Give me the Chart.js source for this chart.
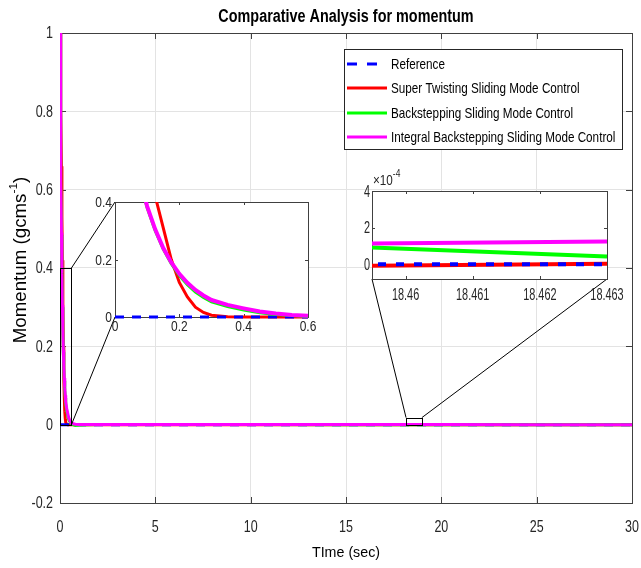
<!DOCTYPE html>
<html>
<head>
<meta charset="utf-8">
<script src="https://cdn.jsdelivr.net/npm/chart.js@4.4.1/dist/chart.umd.min.js"></script>
<style>
html, body { margin: 0; padding: 0; background: #fff; }
#wrap { position: relative; width: 641px; height: 568px; }
#wrap canvas { position: absolute; }
</style>
</head>
<body>
<div id="wrap">
  <canvas id="mainChart" width="641" height="568" style="left:0;top:0"></canvas>
  <canvas id="zoomEarly" width="235" height="145" style="left:85px;top:194px"></canvas>
  <canvas id="zoomLate" width="277" height="136" style="left:350px;top:167px"></canvas>
</div>
<script>
// --- data ---
const time = [0, 0.025, 0.05, 0.075, 0.1, 0.125, 0.15, 0.175, 0.2, 0.225, 0.25, 0.275, 0.3, 0.35, 0.4,
              0.45, 0.5, 0.55, 0.6, 0.8, 1, 2, 5, 10, 15, 18.4595, 18.463, 20, 25, 30];
const reference = [0, 0, 0, 0, 0, 0, 0, 0, 0, 0, 0, 0, 0, 0, 0,
                   0, 0, 0, 0, 0, 0, 0, 0, 0, 0, 0, 0, 0, 0, 0];
const stsmc = [1, 0.93, 0.8, 0.66, 0.53, 0.42, 0.31, 0.2, 0.12, 0.07, 0.034, 0.016, 0.006, 0.001, 0,
               0, 0, 0, 0, 0, 0, 0, 0, 0, 0, -0.000008, 0.000003, 0.000002, 0.000001, 0];
const bsmc = [1, 0.785, 0.615, 0.485, 0.38, 0.3, 0.236, 0.185, 0.144, 0.112, 0.087, 0.068, 0.053, 0.036, 0.024,
              0.015, 0.009, 0.005, 0.002, -0.002, -0.001, 0.0002, 0.00015, 0.00012, 0.0001, 0.000092, 0.000043, 0.00003, 0.00001, 0];
const ibsmc = [1, 0.79, 0.62, 0.49, 0.385, 0.305, 0.24, 0.19, 0.15, 0.119, 0.094, 0.075, 0.059, 0.042, 0.03,
               0.019, 0.012, 0.007, 0.004, 0.001, 0.0004, 0.0002, 0.00015, 0.00013, 0.00012, 0.000113, 0.000124, 0.00012, 0.0001, 0.0001];

const seriesNames = ['Reference', 'Super Twisting Sliding Mode Control',
                     'Backstepping Sliding Mode Control', 'Integral Backstepping Sliding Mode Control'];
const seriesValues = [reference, stsmc, bsmc, ibsmc];
const seriesColors = ['#0000ff', '#ff0000', '#00ff00', '#ff00ff'];
const drawOrder = [2, 3, 1, 0]; // lower = drawn on top

const xTicks = [0, 5, 10, 15, 20, 25, 30];
const yTicks = [-0.2, 0, 0.2, 0.4, 0.6, 0.8, 1];
const earlyXTicks = [0, 0.2, 0.4, 0.6];
const earlyYTicks = [0, 0.2, 0.4];
const lateXTicks = [18.46, 18.461, 18.462, 18.463];
const lateYTicks = [0, 0.0002, 0.0004];

// zoom boxes on the main axes (data units) and which inset they feed
const zoomBoxes = [
    { x0: 0, x1: 0.6, y0: 0, y1: 0.4 },
    { x0: 18.15, x1: 18.98, y0: 0, y1: 0.018 }
];
const links = [
    { box: 0, inset: 0, ends: [['tr', 'tl'], ['br', 'bl']] },
    { box: 1, inset: 1, ends: [['tl', 'bl'], ['tr', 'br']] }
];

const SANS = "'Liberation Sans', Arial, sans-serif";
const AXIS = '#404040';
const LABEL = '#262626';

function buildDatasets(widths, dash) {
    return seriesNames.map((name, i) => ({
        label: name,
        data: time.map((t, j) => ({ x: t, y: seriesValues[i][j] })),
        borderColor: seriesColors[i],
        backgroundColor: seriesColors[i],
        borderWidth: widths[i],
        borderDash: i === 0 ? dash : [],
        pointRadius: 0,
        tension: 0,
        fill: false,
        order: drawOrder[i]
    }));
}

// Helvetica-narrow look: Liberation Sans squeezed horizontally
function squeezed(ctx, str, x, y, font, sx, align, baseline) {
    ctx.save();
    ctx.translate(x, y);
    ctx.scale(sx, 1);
    ctx.font = font;
    ctx.textAlign = align;
    ctx.textBaseline = baseline;
    ctx.fillText(str, 0, 0);
    ctx.restore();
}

// white plot area + box + inward ticks + tick labels (MATLAB look)
const framePlugin = {
    id: 'frame',
    beforeDraw(chart, args, opts) {
        if (!opts.fill) return;
        const a = chart.chartArea, ctx = chart.ctx;
        ctx.save();
        ctx.fillStyle = '#fff';
        ctx.fillRect(a.left, a.top, a.width, a.height);
        ctx.restore();
    },
    beforeDatasetsDraw(chart, args, opts) {
        const { ctx, chartArea: a, scales } = chart;
        const len = opts.tickLen || 5;
        ctx.save();
        ctx.strokeStyle = AXIS;
        ctx.lineWidth = 1;
        ctx.beginPath();
        scales.x.ticks.forEach(t => {
            const px = Math.round(scales.x.getPixelForValue(t.value)) + 0.5;
            ctx.moveTo(px, a.bottom); ctx.lineTo(px, a.bottom - len);
            ctx.moveTo(px, a.top); ctx.lineTo(px, a.top + len);
        });
        scales.y.ticks.forEach(t => {
            const py = Math.round(scales.y.getPixelForValue(t.value)) + 0.5;
            ctx.moveTo(a.left, py); ctx.lineTo(a.left + len, py);
            ctx.moveTo(a.right, py); ctx.lineTo(a.right - len, py);
        });
        ctx.stroke();
        ctx.strokeRect(Math.round(a.left) + 0.5, Math.round(a.top) + 0.5, Math.round(a.width), Math.round(a.height));
        // tick labels
        ctx.fillStyle = LABEL;
        const font = opts.labelSize + 'px ' + SANS;
        scales.x.ticks.forEach(t => {
            squeezed(ctx, opts.xFmt(t.value), scales.x.getPixelForValue(t.value), a.bottom + opts.xPad,
                     font, opts.sx, 'center', 'alphabetic');
        });
        scales.y.ticks.forEach(t => {
            squeezed(ctx, opts.yFmt(t.value), a.left - opts.yPad, scales.y.getPixelForValue(t.value) + 1,
                     font, opts.sx, 'right', 'middle');
        });
        ctx.restore();
    }
};

let insetCharts = [];

function rectCorner(r, c) {
    return [c[1] === 'l' ? r.l : r.r, c[0] === 't' ? r.t : r.b];
}

function drawLegend(chart) {
    const { ctx, chartArea: a } = chart;
    const L = a.right - 288, T = a.top + 16, W = 278, H = 100;
    ctx.save();
    ctx.fillStyle = '#fff';
    ctx.fillRect(L, T, W, H);
    ctx.strokeStyle = '#262626';
    ctx.lineWidth = 1;
    ctx.strokeRect(L + 0.5, T + 0.5, W, H);
    chart.data.datasets.forEach((ds, i) => {
        const y = Math.round(T + 15 + i * 24.3);
        ctx.strokeStyle = ds.borderColor;
        ctx.lineWidth = 3;
        ctx.setLineDash(i === 0 ? [10, 10] : []);
        ctx.beginPath();
        ctx.moveTo(L + 3, y);
        ctx.lineTo(L + 43, y);
        ctx.stroke();
        ctx.setLineDash([]);
        ctx.fillStyle = '#000';
        squeezed(ctx, ds.label, L + 47, y + 1, '15px ' + SANS, 0.78, 'left', 'middle');
    });
    ctx.restore();
}

function drawYTitle(chart) {
    const { ctx, chartArea: a } = chart;
    ctx.save();
    ctx.translate(21, (a.top + a.bottom) / 2 - 8);
    ctx.rotate(-Math.PI / 2);
    ctx.scale(1.04, 1);
    const big = '18px ' + SANS, small = '11.5px ' + SANS;
    const parts = [['Momentum (gcms', big, 0], ['-1', small, -7], [')', big, 0]];
    let w = 0;
    parts.forEach(p => { ctx.font = p[1]; w += ctx.measureText(p[0]).width; });
    let x = -w / 2;
    ctx.fillStyle = '#000';
    ctx.textAlign = 'left';
    ctx.textBaseline = 'middle';
    parts.forEach(p => {
        ctx.font = p[1];
        ctx.fillText(p[0], x, p[2]);
        x += ctx.measureText(p[0]).width;
    });
    ctx.restore();
}

const mainExtras = {
    id: 'mainExtras',
    afterDatasetsDraw(chart) {
        const { ctx, chartArea: a, scales } = chart;
        ctx.save();
        ctx.strokeStyle = '#000';
        ctx.lineWidth = 1;
        const boxRects = zoomBoxes.map(b => {
            const r = {
                l: scales.x.getPixelForValue(b.x0), r: scales.x.getPixelForValue(b.x1),
                t: scales.y.getPixelForValue(b.y1), b: scales.y.getPixelForValue(b.y0)
            };
            ctx.strokeRect(Math.round(r.l) + 0.5, Math.round(r.t) + 0.5, Math.round(r.r - r.l), Math.round(r.b - r.t));
            return r;
        });
        // connector lines to the inset axes
        links.forEach(lk => {
            const ic = insetCharts[lk.inset];
            if (!ic) return;
            const ca = ic.chartArea, ox = ic.canvas.offsetLeft, oy = ic.canvas.offsetTop;
            const ir = { l: ox + ca.left, r: ox + ca.right, t: oy + ca.top, b: oy + ca.bottom };
            lk.ends.forEach(e => {
                const p = rectCorner(boxRects[lk.box], e[0]);
                const q = rectCorner(ir, e[1]);
                ctx.beginPath();
                ctx.moveTo(p[0], p[1]);
                ctx.lineTo(q[0], q[1]);
                ctx.stroke();
            });
        });
        // title and x-axis label
        ctx.fillStyle = '#000';
        squeezed(ctx, 'Comparative Analysis for momentum', (a.left + a.right) / 2, 22,
                 'bold 18px ' + SANS, 0.8, 'center', 'alphabetic');
        squeezed(ctx, 'TIme (sec)', (a.left + a.right) / 2, 557, '15px ' + SANS, 0.95, 'center', 'alphabetic');
        ctx.restore();
        drawLegend(chart);
        drawYTitle(chart);
    }
};

function fmt(v) { return String(Math.round(v * 1000) / 1000); }

const mainChart = new Chart(document.getElementById('mainChart'), {
    type: 'line',
    data: { datasets: buildDatasets([3, 3, 3, 3], [9, 8]) },
    options: {
        responsive: false,
        animation: false,
        devicePixelRatio: 1,
        layout: { padding: { top: 33, right: 9, left: 0, bottom: 0 } },
        plugins: {
            legend: { display: false },
            tooltip: { enabled: false },
            frame: { tickLen: 6, labelSize: 16, sx: 0.78, xPad: 29, yPad: 7, xFmt: fmt, yFmt: fmt }
        },
        scales: {
            x: {
                type: 'linear', min: 0, max: 30,
                afterBuildTicks: s => { s.ticks = xTicks.map(v => ({ value: v })); },
                afterFit: s => { s.height = 65; },
                grid: { color: '#e3e3e3', drawTicks: false },
                border: { display: false },
                ticks: { display: false }
            },
            y: {
                type: 'linear', min: -0.2, max: 1,
                afterBuildTicks: s => { s.ticks = yTicks.map(v => ({ value: v })); },
                afterFit: s => { s.width = 60; },
                grid: { color: '#e3e3e3', drawTicks: false },
                border: { display: false },
                ticks: { display: false }
            }
        }
    },
    plugins: [framePlugin, mainExtras]
});

// --- inset: early transient ---
const earlyChart = new Chart(document.getElementById('zoomEarly'), {
    type: 'line',
    data: { datasets: buildDatasets([3, 3, 3, 4], [9, 8]).map(d => Object.assign(d, { clip: { left: 0, top: 0, right: 0, bottom: 3 } })) },
    options: {
        responsive: false,
        animation: false,
        devicePixelRatio: 1,
        layout: { padding: { top: 8, right: 12, left: 0, bottom: 0 } },
        plugins: {
            legend: { display: false }, tooltip: { enabled: false },
            frame: { tickLen: 3, fill: true, labelSize: 15, sx: 0.8, xPad: 14, yPad: 3, xFmt: fmt, yFmt: fmt }
        },
        scales: {
            x: {
                type: 'linear', min: 0, max: 0.6,
                afterBuildTicks: s => { s.ticks = earlyXTicks.map(v => ({ value: v })); },
                afterFit: s => { s.height = 22; },
                grid: { display: false }, border: { display: false }, ticks: { display: false }
            },
            y: {
                type: 'linear', min: 0, max: 0.4,
                afterBuildTicks: s => { s.ticks = earlyYTicks.map(v => ({ value: v })); },
                afterFit: s => { s.width = 30; },
                grid: { display: false }, border: { display: false }, ticks: { display: false }
            }
        }
    },
    plugins: [framePlugin]
});

// --- inset: steady state near 18.46 s ---
const exponentLabel = {
    id: 'exponentLabel',
    afterDraw(chart) {
        const { ctx, chartArea: a } = chart;
        ctx.save();
        ctx.fillStyle = LABEL;
        squeezed(ctx, '\u00d710', a.left + 1, a.top - 6, '15px ' + SANS, 0.78, 'left', 'alphabetic');
        ctx.font = '15px ' + SANS;
        const w = ctx.measureText('\u00d710').width * 0.78;
        squeezed(ctx, '-4', a.left + 1 + w, a.top - 14, '10.5px ' + SANS, 0.8, 'left', 'alphabetic');
        ctx.restore();
    }
};

const lateChart = new Chart(document.getElementById('zoomLate'), {
    type: 'line',
    data: { datasets: buildDatasets([4, 4, 4, 4], [8, 10]).map(d => Object.assign(d, { clip: 0 })) },
    options: {
        responsive: false,
        animation: false,
        devicePixelRatio: 1,
        layout: { padding: { top: 24, right: 20, left: 0, bottom: 0 } },
        plugins: {
            legend: { display: false }, tooltip: { enabled: false },
            frame: { tickLen: 3, fill: true, labelSize: 16.5, sx: 0.66, xPad: 21, yPad: 2,
                     xFmt: v => String(v), yFmt: v => String(Math.round(v * 1e4)) }
        },
        scales: {
            x: {
                type: 'linear', min: 18.4595, max: 18.463,
                afterBuildTicks: s => { s.ticks = lateXTicks.map(v => ({ value: v })); },
                afterFit: s => { s.height = 24; },
                grid: { display: false }, border: { display: false }, ticks: { display: false }
            },
            y: {
                type: 'linear', min: -0.00008, max: 0.0004,
                afterBuildTicks: s => { s.ticks = lateYTicks.map(v => ({ value: v })); },
                afterFit: s => { s.width = 22; },
                grid: { display: false }, border: { display: false }, ticks: { display: false }
            }
        }
    },
    plugins: [framePlugin, exponentLabel]
});

insetCharts = [earlyChart, lateChart];
mainChart.draw();
</script>
</body>
</html>
